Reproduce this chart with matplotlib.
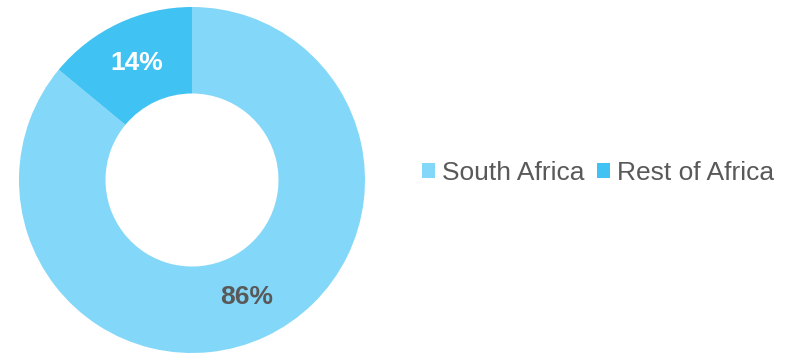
import matplotlib.pyplot as plt

labels = ['South Africa', 'Rest of Africa']
shares = [86, 14]
colors = ['#83D7F8', '#40C2F2']
pct_colors = ['#595959', 'white']

plt.rcParams['font.family'] = ['Liberation Sans', 'DejaVu Sans']

fig = plt.figure(figsize=(7.95, 3.53), dpi=100)
ax = fig.add_axes([19/795, 0/353, 346/795, 346/353])

wedges, texts, autotexts = ax.pie(shares, colors=colors, startangle=90, counterclock=False,
                                  autopct='%d%%', pctdistance=0.745,
                                  wedgeprops=dict(width=0.5, linewidth=0),
                                  textprops=dict(fontsize=19, fontweight='bold'))
for t, c in zip(autotexts, pct_colors):
    t.set_color(c)
ax.set_xlim(-1, 1)
ax.set_ylim(-1, 1)
ax.set_aspect('equal')

leg = fig.legend(wedges, labels, loc='center left', bbox_to_anchor=(398/795, 1 - 173/353),
                 ncol=2, frameon=False, fontsize=19, handlelength=0.5, handleheight=0.5,
                 handletextpad=0.25, columnspacing=0.5, labelcolor='#595959')

fig.savefig('out.png', dpi=100)
